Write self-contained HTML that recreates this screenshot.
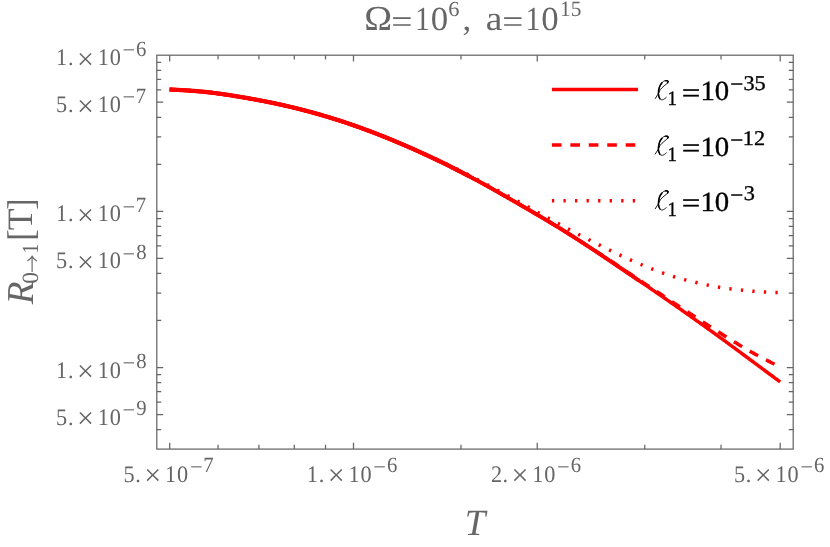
<!DOCTYPE html>
<html><head><meta charset="utf-8"><title>plot</title>
<style>
html,body{margin:0;padding:0;background:#fff;}
body{width:830px;height:547px;overflow:hidden;font-family:"Liberation Serif",serif;}
svg{display:block;will-change:transform;}
svg text{font-family:"Liberation Serif",serif;text-rendering:geometricPrecision;}
</style></head><body>
<svg width="830" height="547" viewBox="0 0 830 547">
<rect width="830" height="547" fill="#fff"/>
<rect x="156.8" y="55.2" width="636.4000000000001" height="393.90000000000003" fill="none" stroke="#666" stroke-width="1.25"/>
<path d="M169.70 449.1v-6.4M169.70 55.2v6.4M353.48 449.1v-6.4M353.48 55.2v6.4M537.26 449.1v-6.4M537.26 55.2v6.4M780.20 449.1v-6.4M780.20 55.2v6.4M218.04 449.1v-4.4M218.04 55.2v4.4M258.91 449.1v-4.4M258.91 55.2v4.4M294.32 449.1v-4.4M294.32 55.2v4.4M325.54 449.1v-4.4M325.54 55.2v4.4M460.98 449.1v-4.4M460.98 55.2v4.4M644.76 449.1v-4.4M644.76 55.2v4.4M721.04 449.1v-4.4M721.04 55.2v4.4M156.8 102.21h6.4M793.2 102.21h-6.4M156.8 211.35h6.4M793.2 211.35h-6.4M156.8 258.36h6.4M793.2 258.36h-6.4M156.8 367.50h6.4M793.2 367.50h-6.4M156.8 414.51h6.4M793.2 414.51h-6.4M156.8 62.35h4.4M793.2 62.35h-4.4M156.8 70.33h4.4M793.2 70.33h-4.4M156.8 79.39h4.4M793.2 79.39h-4.4M156.8 89.84h4.4M793.2 89.84h-4.4M156.8 117.34h4.4M793.2 117.34h-4.4M156.8 136.85h4.4M793.2 136.85h-4.4M156.8 164.34h4.4M793.2 164.34h-4.4M156.8 218.50h4.4M793.2 218.50h-4.4M156.8 226.48h4.4M793.2 226.48h-4.4M156.8 235.54h4.4M793.2 235.54h-4.4M156.8 245.99h4.4M793.2 245.99h-4.4M156.8 273.49h4.4M793.2 273.49h-4.4M156.8 293.00h4.4M793.2 293.00h-4.4M156.8 320.49h4.4M793.2 320.49h-4.4M156.8 374.65h4.4M793.2 374.65h-4.4M156.8 382.63h4.4M793.2 382.63h-4.4M156.8 391.69h4.4M793.2 391.69h-4.4M156.8 402.14h4.4M793.2 402.14h-4.4M156.8 429.64h4.4M793.2 429.64h-4.4" fill="none" stroke="#666" stroke-width="1.25"/>
<path d="M169.70 89.48 L171.23 89.56 L172.76 89.64 L174.29 89.71 L175.82 89.79 L177.35 89.88 L178.88 89.96 L180.41 90.04 L181.94 90.13 L183.47 90.22 L185.00 90.31 L186.53 90.41 L188.06 90.51 L189.59 90.61 L191.12 90.72 L192.65 90.83 L194.18 90.95 L195.71 91.07 L197.24 91.20 L198.77 91.33 L200.30 91.47 L201.83 91.61 L203.36 91.77 L204.89 91.92 L206.42 92.09 L207.95 92.26 L209.48 92.43 L211.01 92.61 L212.54 92.80 L214.07 92.99 L215.60 93.19 L217.13 93.39 L218.66 93.59 L220.19 93.80 L221.72 94.02 L223.25 94.24 L224.78 94.46 L226.31 94.69 L227.84 94.92 L229.37 95.15 L230.90 95.39 L232.43 95.63 L233.96 95.87 L235.49 96.12 L237.02 96.37 L238.55 96.62 L240.08 96.87 L241.61 97.13 L243.14 97.39 L244.67 97.65 L246.20 97.92 L247.73 98.18 L249.26 98.45 L250.79 98.72 L252.32 99.00 L253.85 99.28 L255.38 99.56 L256.91 99.84 L258.44 100.13 L259.97 100.42 L261.50 100.71 L263.03 101.00 L264.56 101.30 L266.09 101.61 L267.62 101.91 L269.15 102.22 L270.68 102.53 L272.22 102.85 L273.75 103.17 L275.28 103.49 L276.81 103.82 L278.34 104.15 L279.87 104.48 L281.40 104.82 L282.93 105.16 L284.46 105.51 L285.99 105.86 L287.52 106.21 L289.05 106.57 L290.58 106.93 L292.11 107.29 L293.64 107.66 L295.17 108.03 L296.70 108.41 L298.23 108.79 L299.76 109.18 L301.29 109.57 L302.82 109.96 L304.35 110.36 L305.88 110.76 L307.41 111.16 L308.94 111.57 L310.47 111.98 L312.00 112.40 L313.53 112.82 L315.06 113.25 L316.59 113.68 L318.12 114.11 L319.65 114.55 L321.18 114.99 L322.71 115.44 L324.24 115.89 L325.77 116.34 L327.30 116.80 L328.83 117.26 L330.36 117.73 L331.89 118.20 L333.42 118.67 L334.95 119.15 L336.48 119.64 L338.01 120.12 L339.54 120.61 L341.07 121.11 L342.60 121.61 L344.13 122.11 L345.66 122.62 L347.19 123.13 L348.72 123.65 L350.25 124.17 L351.78 124.70 L353.31 125.23 L354.84 125.76 L356.37 126.30 L357.90 126.84 L359.43 127.39 L360.96 127.94 L362.49 128.49 L364.02 129.05 L365.55 129.61 L367.08 130.18 L368.61 130.75 L370.14 131.32 L371.67 131.90 L373.20 132.49 L374.73 133.07 L376.26 133.66 L377.79 134.26 L379.32 134.86 L380.85 135.46 L382.38 136.07 L383.91 136.68 L385.44 137.29 L386.97 137.91 L388.50 138.53 L390.03 139.15 L391.56 139.78 L393.09 140.41 L394.62 141.05 L396.15 141.69 L397.68 142.33 L399.21 142.98 L400.74 143.62 L402.27 144.28 L403.80 144.93 L405.33 145.59 L406.86 146.26 L408.39 146.92 L409.92 147.59 L411.45 148.27 L412.98 148.94 L414.51 149.62 L416.04 150.31 L417.57 150.99 L419.10 151.68 L420.63 152.38 L422.16 153.08 L423.69 153.78 L425.22 154.48 L426.75 155.19 L428.28 155.90 L429.81 156.62 L431.34 157.34 L432.87 158.06 L434.40 158.78 L435.93 159.51 L437.46 160.25 L438.99 160.98 L440.52 161.72 L442.05 162.47 L443.58 163.22 L445.11 163.97 L446.64 164.72 L448.17 165.48 L449.70 166.24 L451.23 167.01 L452.76 167.78 L454.29 168.55 L455.82 169.33 L457.35 170.11 L458.88 170.89 L460.41 171.68 L461.94 172.47 L463.47 173.26 L465.00 174.06 L466.53 174.86 L468.06 175.66 L469.59 176.47 L471.12 177.28 L472.65 178.10 L474.18 178.92 L475.72 179.74 L477.25 180.56 L478.78 181.39 L480.31 182.23 L481.84 183.06 L483.37 183.90 L484.90 184.74 L486.43 185.59 L487.96 186.44 L489.49 187.29 L491.02 188.14 L492.55 189.00 L494.08 189.86 L495.61 190.72 L497.14 191.59 L498.67 192.45 L500.20 193.32 L501.73 194.19 L503.26 195.06 L504.79 195.94 L506.32 196.81 L507.85 197.69 L509.38 198.57 L510.91 199.45 L512.44 200.33 L513.97 201.21 L515.50 202.09 L517.03 202.97 L518.56 203.86 L520.09 204.74 L521.62 205.63 L523.15 206.51 L524.68 207.40 L526.21 208.28 L527.74 209.17 L529.27 210.06 L530.80 210.95 L532.33 211.84 L533.86 212.74 L535.39 213.63 L536.92 214.53 L538.45 215.43 L539.98 216.33 L541.51 217.23 L543.04 218.14 L544.57 219.04 L546.10 219.96 L547.63 220.87 L549.16 221.79 L550.69 222.71 L552.22 223.63 L553.75 224.56 L555.28 225.49 L556.81 226.42 L558.34 227.36 L559.87 228.30 L561.40 229.24 L562.93 230.19 L564.46 231.15 L565.99 232.11 L567.52 233.07 L569.05 234.03 L570.58 235.00 L572.11 235.97 L573.64 236.95 L575.17 237.93 L576.70 238.91 L578.23 239.89 L579.76 240.88 L581.29 241.87 L582.82 242.87 L584.35 243.86 L585.88 244.86 L587.41 245.86 L588.94 246.87 L590.47 247.87 L592.00 248.88 L593.53 249.89 L595.06 250.91 L596.59 251.92 L598.12 252.94 L599.65 253.96 L601.18 254.98 L602.71 256.00 L604.24 257.02 L605.77 258.05 L607.30 259.08 L608.83 260.10 L610.36 261.13 L611.89 262.16 L613.42 263.20 L614.95 264.23 L616.48 265.26 L618.01 266.30 L619.54 267.34 L621.07 268.37 L622.60 269.41 L624.13 270.45 L625.66 271.49 L627.19 272.54 L628.72 273.58 L630.25 274.62 L631.78 275.67 L633.31 276.71 L634.84 277.75 L636.37 278.80 L637.90 279.85 L639.43 280.89 L640.96 281.94 L642.49 282.99 L644.02 284.03 L645.55 285.08 L647.08 286.13 L648.61 287.18 L650.14 288.23 L651.67 289.28 L653.20 290.33 L654.73 291.38 L656.26 292.44 L657.79 293.49 L659.32 294.54 L660.85 295.60 L662.38 296.65 L663.91 297.71 L665.44 298.77 L666.97 299.83 L668.50 300.89 L670.03 301.95 L671.56 303.02 L673.09 304.08 L674.62 305.15 L676.15 306.21 L677.68 307.28 L679.22 308.35 L680.75 309.42 L682.28 310.49 L683.81 311.57 L685.34 312.65 L686.87 313.72 L688.40 314.80 L689.93 315.88 L691.46 316.97 L692.99 318.05 L694.52 319.13 L696.05 320.22 L697.58 321.31 L699.11 322.40 L700.64 323.49 L702.17 324.59 L703.70 325.68 L705.23 326.78 L706.76 327.88 L708.29 328.98 L709.82 330.08 L711.35 331.18 L712.88 332.29 L714.41 333.40 L715.94 334.51 L717.47 335.62 L719.00 336.73 L720.53 337.84 L722.06 338.96 L723.59 340.08 L725.12 341.20 L726.65 342.32 L728.18 343.44 L729.71 344.56 L731.24 345.69 L732.77 346.81 L734.30 347.94 L735.83 349.07 L737.36 350.20 L738.89 351.33 L740.42 352.46 L741.95 353.59 L743.48 354.72 L745.01 355.85 L746.54 356.99 L748.07 358.12 L749.60 359.25 L751.13 360.39 L752.66 361.52 L754.19 362.65 L755.72 363.79 L757.25 364.92 L758.78 366.06 L760.31 367.19 L761.84 368.33 L763.37 369.46 L764.90 370.60 L766.43 371.73 L767.96 372.87 L769.49 374.00 L771.02 375.14 L772.55 376.27 L774.08 377.41 L775.61 378.54 L777.14 379.68 L778.67 380.81 L780.20 381.95" fill="none" stroke="#f00" stroke-width="3.5" stroke-linejoin="round"/>
<path d="M169.70 89.48 L171.23 89.56 L172.76 89.64 L174.29 89.71 L175.82 89.79 L177.35 89.88 L178.88 89.96 L180.41 90.04 L181.94 90.13 L183.47 90.22 L185.00 90.31 L186.53 90.41 L188.06 90.51 L189.59 90.61 L191.12 90.72 L192.65 90.83 L194.18 90.95 L195.71 91.07 L197.24 91.20 L198.77 91.33 L200.30 91.47 L201.83 91.61 L203.36 91.77 L204.89 91.92 L206.42 92.09 L207.95 92.26 L209.48 92.43 L211.01 92.61 L212.54 92.80 L214.07 92.99 L215.60 93.19 L217.13 93.39 L218.66 93.59 L220.19 93.80 L221.72 94.02 L223.25 94.24 L224.78 94.46 L226.31 94.69 L227.84 94.92 L229.37 95.15 L230.90 95.39 L232.43 95.63 L233.96 95.87 L235.49 96.12 L237.02 96.37 L238.55 96.62 L240.08 96.87 L241.61 97.13 L243.14 97.39 L244.67 97.65 L246.20 97.92 L247.73 98.18 L249.26 98.45 L250.79 98.72 L252.32 99.00 L253.85 99.28 L255.38 99.56 L256.91 99.84 L258.44 100.13 L259.97 100.42 L261.50 100.71 L263.03 101.00 L264.56 101.30 L266.09 101.61 L267.62 101.91 L269.15 102.22 L270.68 102.53 L272.22 102.85 L273.75 103.17 L275.28 103.49 L276.81 103.82 L278.34 104.15 L279.87 104.48 L281.40 104.82 L282.93 105.16 L284.46 105.51 L285.99 105.86 L287.52 106.21 L289.05 106.57 L290.58 106.93 L292.11 107.29 L293.64 107.66 L295.17 108.03 L296.70 108.41 L298.23 108.79 L299.76 109.18 L301.29 109.57 L302.82 109.96 L304.35 110.36 L305.88 110.76 L307.41 111.16 L308.94 111.57 L310.47 111.98 L312.00 112.40 L313.53 112.82 L315.06 113.25 L316.59 113.68 L318.12 114.11 L319.65 114.55 L321.18 114.99 L322.71 115.44 L324.24 115.89 L325.77 116.34 L327.30 116.80 L328.83 117.26 L330.36 117.73 L331.89 118.20 L333.42 118.67 L334.95 119.15 L336.48 119.64 L338.01 120.12 L339.54 120.61 L341.07 121.11 L342.60 121.61 L344.13 122.11 L345.66 122.62 L347.19 123.13 L348.72 123.65 L350.25 124.17 L351.78 124.70 L353.31 125.23 L354.84 125.76 L356.37 126.30 L357.90 126.84 L359.43 127.39 L360.96 127.94 L362.49 128.49 L364.02 129.05 L365.55 129.61 L367.08 130.18 L368.61 130.75 L370.14 131.32 L371.67 131.90 L373.20 132.49 L374.73 133.07 L376.26 133.66 L377.79 134.26 L379.32 134.86 L380.85 135.46 L382.38 136.07 L383.91 136.68 L385.44 137.29 L386.97 137.91 L388.50 138.53 L390.03 139.15 L391.56 139.78 L393.09 140.41 L394.62 141.05 L396.15 141.69 L397.68 142.33 L399.21 142.98 L400.74 143.62 L402.27 144.28 L403.80 144.93 L405.33 145.59 L406.86 146.26 L408.39 146.92 L409.92 147.59 L411.45 148.27 L412.98 148.94 L414.51 149.62 L416.04 150.31 L417.57 150.99 L419.10 151.68 L420.63 152.38 L422.16 153.08 L423.69 153.78 L425.22 154.48 L426.75 155.19 L428.28 155.90 L429.81 156.62 L431.34 157.34 L432.87 158.06 L434.40 158.78 L435.93 159.51 L437.46 160.25 L438.99 160.98 L440.52 161.72 L442.05 162.47 L443.58 163.22 L445.11 163.97 L446.64 164.72 L448.17 165.48 L449.70 166.24 L451.23 167.01 L452.76 167.78 L454.29 168.55 L455.82 169.33 L457.35 170.11 L458.88 170.89 L460.41 171.68 L461.94 172.47 L463.47 173.26 L465.00 174.06 L466.53 174.86 L468.06 175.66 L469.59 176.47 L471.12 177.28 L472.65 178.10 L474.18 178.92 L475.72 179.74 L477.25 180.56 L478.78 181.39 L480.31 182.23 L481.84 183.06 L483.37 183.90 L484.90 184.74 L486.43 185.59 L487.96 186.44 L489.49 187.29 L491.02 188.14 L492.55 189.00 L494.08 189.86 L495.61 190.72 L497.14 191.59 L498.67 192.45 L500.20 193.32 L501.73 194.19 L503.26 195.06 L504.79 195.94 L506.32 196.81 L507.85 197.69 L509.38 198.57 L510.91 199.45 L512.44 200.33 L513.97 201.21 L515.50 202.09 L517.03 202.97 L518.56 203.86 L520.09 204.74 L521.62 205.63 L523.15 206.51 L524.68 207.40 L526.21 208.28 L527.74 209.17 L529.27 210.06 L530.80 210.95 L532.33 211.84 L533.86 212.74 L535.39 213.63 L536.92 214.53 L538.45 215.43 L539.98 216.33 L541.51 217.23 L543.04 218.14 L544.57 219.04 L546.10 219.96 L547.63 220.87 L549.16 221.79 L550.69 222.71 L552.22 223.63 L553.75 224.56 L555.28 225.49 L556.81 226.42 L558.34 227.36 L559.87 228.30 L561.40 229.24 L562.93 230.19 L564.46 231.15 L565.99 232.11 L567.52 233.07 L569.05 234.03 L570.58 235.00 L572.11 235.97 L573.64 236.95 L575.17 237.93 L576.70 238.91 L578.23 239.89 L579.76 240.88 L581.29 241.87 L582.82 242.87 L584.35 243.86 L585.88 244.86 L587.41 245.86 L588.94 246.87 L590.47 247.87 L592.00 248.88 L593.53 249.89 L595.06 250.91 L596.59 251.92 L598.12 252.94 L599.65 253.96 L601.18 254.98 L602.71 256.00 L604.24 257.02 L605.77 258.05 L607.30 259.08 L608.83 260.10 L610.36 261.13 L611.89 262.16 L613.42 263.20 L614.95 264.23 L616.48 265.26 L618.01 266.30 L619.54 267.34 L621.07 268.37 L622.60 269.41 L624.13 270.45 L625.66 271.49 L627.19 272.54 L628.72 273.58 L630.25 274.62 L631.78 275.67 L633.31 276.71 L634.84 277.75 L636.37 278.80 L637.90 279.85 L639.43 280.89" fill="none" stroke="#f00" stroke-width="3.9" stroke-linejoin="round"/>
<path d="M169.70 89.48 L171.23 89.56 L172.76 89.64 L174.29 89.71 L175.82 89.79 L177.35 89.88 L178.88 89.96 L180.41 90.04 L181.94 90.13 L183.47 90.22 L185.00 90.31 L186.53 90.41 L188.06 90.51 L189.59 90.61 L191.12 90.72 L192.65 90.83 L194.18 90.95 L195.71 91.07 L197.24 91.20 L198.77 91.33 L200.30 91.47 L201.83 91.61 L203.36 91.77 L204.89 91.92 L206.42 92.09 L207.95 92.26 L209.48 92.43 L211.01 92.61 L212.54 92.80 L214.07 92.99 L215.60 93.19 L217.13 93.39 L218.66 93.59 L220.19 93.80 L221.72 94.02 L223.25 94.24 L224.78 94.46 L226.31 94.69 L227.84 94.92 L229.37 95.15 L230.90 95.39 L232.43 95.63 L233.96 95.87 L235.49 96.12 L237.02 96.37 L238.55 96.62 L240.08 96.87 L241.61 97.13 L243.14 97.39 L244.67 97.65 L246.20 97.92 L247.73 98.18 L249.26 98.45 L250.79 98.72 L252.32 99.00 L253.85 99.28 L255.38 99.56 L256.91 99.84 L258.44 100.13 L259.97 100.42 L261.50 100.71 L263.03 101.00 L264.56 101.30 L266.09 101.61 L267.62 101.91 L269.15 102.22 L270.68 102.53 L272.22 102.85 L273.75 103.17 L275.28 103.49 L276.81 103.82 L278.34 104.15 L279.87 104.48 L281.40 104.82 L282.93 105.16 L284.46 105.51 L285.99 105.86 L287.52 106.21 L289.05 106.57 L290.58 106.93 L292.11 107.29 L293.64 107.66 L295.17 108.03 L296.70 108.41 L298.23 108.79 L299.76 109.18 L301.29 109.57 L302.82 109.96 L304.35 110.36 L305.88 110.76 L307.41 111.16 L308.94 111.57 L310.47 111.98 L312.00 112.40 L313.53 112.82 L315.06 113.25 L316.59 113.68 L318.12 114.11 L319.65 114.55 L321.18 114.99 L322.71 115.44 L324.24 115.89 L325.77 116.34 L327.30 116.80 L328.83 117.26 L330.36 117.73 L331.89 118.20 L333.42 118.67 L334.95 119.15 L336.48 119.64 L338.01 120.12 L339.54 120.61 L341.07 121.11 L342.60 121.61 L344.13 122.11 L345.66 122.62 L347.19 123.13 L348.72 123.65 L350.25 124.17 L351.78 124.70 L353.31 125.23 L354.84 125.76 L356.37 126.30 L357.90 126.84 L359.43 127.39 L360.96 127.94 L362.49 128.49 L364.02 129.05 L365.55 129.61 L367.08 130.18 L368.61 130.75 L370.14 131.32 L371.67 131.90 L373.20 132.49 L374.73 133.07 L376.26 133.66 L377.79 134.26 L379.32 134.86 L380.85 135.46 L382.38 136.07 L383.91 136.68 L385.44 137.29 L386.97 137.91 L388.50 138.53 L390.03 139.15 L391.56 139.78 L393.09 140.41 L394.62 141.05 L396.15 141.69 L397.68 142.33 L399.21 142.98 L400.74 143.62 L402.27 144.28 L403.80 144.93 L405.33 145.59 L406.86 146.26 L408.39 146.92 L409.92 147.59 L411.45 148.27 L412.98 148.94 L414.51 149.62 L416.04 150.31 L417.57 150.99 L419.10 151.68 L420.63 152.38 L422.16 153.08 L423.69 153.78 L425.22 154.48 L426.75 155.19 L428.28 155.90 L429.81 156.62 L431.34 157.34 L432.87 158.06 L434.40 158.78 L435.93 159.51 L437.46 160.25 L438.99 160.98 L440.52 161.72 L442.05 162.47 L443.58 163.22 L445.11 163.97 L446.64 164.72 L448.17 165.48 L449.70 166.24 L451.23 167.01 L452.76 167.78 L454.29 168.55 L455.82 169.33 L457.35 170.11 L458.88 170.89 L460.41 171.68 L461.94 172.47 L463.47 173.26 L465.00 174.06 L466.53 174.86 L468.06 175.66 L469.59 176.47" fill="none" stroke="#f00" stroke-width="4.2" stroke-linejoin="round"/>
<path d="M169.70 89.48 L171.23 89.56 L172.76 89.64 L174.29 89.71 L175.82 89.79 L177.35 89.88 L178.88 89.96 L180.41 90.04 L181.94 90.13 L183.47 90.22 L185.00 90.31 L186.53 90.41 L188.06 90.51 L189.59 90.61 L191.12 90.72 L192.65 90.83 L194.18 90.95 L195.71 91.07 L197.24 91.20 L198.77 91.33 L200.30 91.47 L201.83 91.61 L203.36 91.77 L204.89 91.92 L206.42 92.09 L207.95 92.26 L209.48 92.43 L211.01 92.61 L212.54 92.80 L214.07 92.99 L215.60 93.19 L217.13 93.39 L218.66 93.59 L220.19 93.80 L221.72 94.02 L223.25 94.24 L224.78 94.46 L226.31 94.69 L227.84 94.92 L229.37 95.15 L230.90 95.39 L232.43 95.63 L233.96 95.87 L235.49 96.12 L237.02 96.37 L238.55 96.62 L240.08 96.87 L241.61 97.13 L243.14 97.39 L244.67 97.65 L246.20 97.92 L247.73 98.18 L249.26 98.45 L250.79 98.72 L252.32 99.00 L253.85 99.28 L255.38 99.56 L256.91 99.84 L258.44 100.13 L259.97 100.42 L261.50 100.71 L263.03 101.00 L264.56 101.30 L266.09 101.61 L267.62 101.91 L269.15 102.22 L270.68 102.53 L272.22 102.85 L273.75 103.17 L275.28 103.49 L276.81 103.82 L278.34 104.15 L279.87 104.48 L281.40 104.82 L282.93 105.16 L284.46 105.51 L285.99 105.86 L287.52 106.21 L289.05 106.57 L290.58 106.93 L292.11 107.29 L293.64 107.66 L295.17 108.03 L296.70 108.41 L298.23 108.79 L299.76 109.18 L301.29 109.57 L302.82 109.96 L304.35 110.36 L305.88 110.76 L307.41 111.16 L308.94 111.57 L310.47 111.98 L312.00 112.40 L313.53 112.82 L315.06 113.25 L316.59 113.68 L318.12 114.11 L319.65 114.55 L321.18 114.99 L322.71 115.44 L324.24 115.89 L325.77 116.34 L327.30 116.80 L328.83 117.26 L330.36 117.73 L331.89 118.20 L333.42 118.67 L334.95 119.15 L336.48 119.64 L338.01 120.12 L339.54 120.61 L341.07 121.11 L342.60 121.61 L344.13 122.11 L345.66 122.62 L347.19 123.13 L348.72 123.65 L350.25 124.17 L351.78 124.70 L353.31 125.23 L354.84 125.76 L356.37 126.30 L357.90 126.84 L359.43 127.39 L360.96 127.94 L362.49 128.49 L364.02 129.05 L365.55 129.61 L367.08 130.18 L368.61 130.75 L370.14 131.32 L371.67 131.90 L373.20 132.49 L374.73 133.07 L376.26 133.66 L377.79 134.26 L379.32 134.86 L380.85 135.46 L382.38 136.07 L383.91 136.68 L385.44 137.29 L386.97 137.91 L388.50 138.53 L390.03 139.15 L391.56 139.78 L393.09 140.41 L394.62 141.05 L396.15 141.69 L397.68 142.33 L399.21 142.98 L400.74 143.62 L402.27 144.28 L403.80 144.93 L405.33 145.59 L406.86 146.26 L408.39 146.92 L409.92 147.59 L411.45 148.27 L412.98 148.94 L414.51 149.62 L416.04 150.31 L417.57 150.99 L419.10 151.68 L420.63 152.38 L422.16 153.08 L423.69 153.78 L425.22 154.48 L426.75 155.19 L428.28 155.90 L429.81 156.62 L431.34 157.34 L432.87 158.06 L434.40 158.78 L435.93 159.51 L437.46 160.25 L438.99 160.98 L440.52 161.72 L442.05 162.47 L443.58 163.22 L445.11 163.97 L446.64 164.72 L448.17 165.48 L449.70 166.24 L451.23 167.01 L452.76 167.78 L454.29 168.55 L455.82 169.33 L457.35 170.11 L458.88 170.89 L460.41 171.68 L461.94 172.47 L463.47 173.26 L465.00 174.06 L466.53 174.86 L468.06 175.66 L469.59 176.47 L471.12 177.28 L472.65 178.10 L474.18 178.92 L475.72 179.74 L477.25 180.56 L478.78 181.39 L480.31 182.23 L481.84 183.06 L483.37 183.90 L484.90 184.74 L486.43 185.59 L487.96 186.44 L489.49 187.29 L491.02 188.14 L492.55 189.00 L494.08 189.86 L495.61 190.72 L497.14 191.59 L498.67 192.45 L500.20 193.32 L501.73 194.19 L503.26 195.06 L504.79 195.94 L506.32 196.81 L507.85 197.69 L509.38 198.57 L510.91 199.45 L512.44 200.33 L513.97 201.21 L515.50 202.09 L517.03 202.97 L518.56 203.86 L520.09 204.74 L521.62 205.63 L523.15 206.51 L524.68 207.40 L526.21 208.28 L527.74 209.17 L529.27 210.06 L530.80 210.95 L532.33 211.84 L533.86 212.74 L535.39 213.63 L536.92 214.53 L538.45 215.43 L539.98 216.33 L541.51 217.23 L543.04 218.14 L544.57 219.04 L546.10 219.96 L547.63 220.87 L549.16 221.79 L550.69 222.71 L552.22 223.63 L553.75 224.56 L555.28 225.49 L556.81 226.42 L558.34 227.36 L559.87 228.30 L561.40 229.24 L562.93 230.19 L564.46 231.14 L565.99 232.10 L567.52 233.05 L569.05 234.01 L570.58 234.97 L572.11 235.93 L573.64 236.90 L575.17 237.86 L576.70 238.83 L578.23 239.81 L579.76 240.78 L581.29 241.76 L582.82 242.74 L584.35 243.72 L585.88 244.70 L587.41 245.69 L588.94 246.68 L590.47 247.67 L592.00 248.66 L593.53 249.66 L595.06 250.66 L596.59 251.66 L598.12 252.66 L599.65 253.66 L601.18 254.67 L602.71 255.67 L604.24 256.68 L605.77 257.69 L607.30 258.70 L608.83 259.71 L610.36 260.73 L611.89 261.74 L613.42 262.76 L614.95 263.77 L616.48 264.79 L618.01 265.81 L619.54 266.83 L621.07 267.85 L622.60 268.86 L624.13 269.88 L625.66 270.90 L627.19 271.93 L628.72 272.95 L630.25 273.97 L631.78 274.99 L633.31 276.01 L634.84 277.03 L636.37 278.05 L637.90 279.07 L639.43 280.09 L640.96 281.11 L642.49 282.13 L644.02 283.15 L645.55 284.17 L647.08 285.19 L648.61 286.21 L650.14 287.23 L651.67 288.24 L653.20 289.26 L654.73 290.27 L656.26 291.29 L657.79 292.30 L659.32 293.31 L660.85 294.32 L662.38 295.33 L663.91 296.34 L665.44 297.35 L666.97 298.36 L668.50 299.36 L670.03 300.37 L671.56 301.37 L673.09 302.38 L674.62 303.38 L676.15 304.39 L677.68 305.39 L679.22 306.40 L680.75 307.40 L682.28 308.40 L683.81 309.41 L685.34 310.41 L686.87 311.42 L688.40 312.42 L689.93 313.42 L691.46 314.43 L692.99 315.43 L694.52 316.44 L696.05 317.44 L697.58 318.45 L699.11 319.45 L700.64 320.46 L702.17 321.46 L703.70 322.46 L705.23 323.46 L706.76 324.45 L708.29 325.44 L709.82 326.43 L711.35 327.41 L712.88 328.39 L714.41 329.37 L715.94 330.35 L717.47 331.33 L719.00 332.30 L720.53 333.27 L722.06 334.24 L723.59 335.20 L725.12 336.17 L726.65 337.13 L728.18 338.09 L729.71 339.05 L731.24 340.01 L732.77 340.96 L734.30 341.91 L735.83 342.86 L737.36 343.81 L738.89 344.76 L740.42 345.69 L741.95 346.61 L743.48 347.52 L745.01 348.42 L746.54 349.31 L748.07 350.19 L749.60 351.06 L751.13 351.92 L752.66 352.78 L754.19 353.64 L755.72 354.48 L757.25 355.31 L758.78 356.12 L760.31 356.91 L761.84 357.70 L763.37 358.49 L764.90 359.27 L766.43 360.06 L767.96 360.85 L769.49 361.64 L771.02 362.45 L772.55 363.26 L774.08 364.07 L775.61 364.89 L777.14 365.71 L778.67 366.53 L780.20 367.35" fill="none" stroke="#f00" stroke-width="3.5" stroke-dasharray="9.6 8.85" stroke-dashoffset="0.6"/>
<path d="M169.70 89.48 L171.23 89.56 L172.76 89.64 L174.29 89.71 L175.82 89.79 L177.35 89.88 L178.88 89.96 L180.41 90.04 L181.94 90.13 L183.47 90.22 L185.00 90.31 L186.53 90.41 L188.06 90.51 L189.59 90.61 L191.12 90.72 L192.65 90.83 L194.18 90.95 L195.71 91.07 L197.24 91.20 L198.77 91.33 L200.30 91.47 L201.83 91.61 L203.36 91.77 L204.89 91.92 L206.42 92.09 L207.95 92.26 L209.48 92.43 L211.01 92.61 L212.54 92.80 L214.07 92.99 L215.60 93.19 L217.13 93.39 L218.66 93.59 L220.19 93.80 L221.72 94.02 L223.25 94.24 L224.78 94.46 L226.31 94.69 L227.84 94.92 L229.37 95.15 L230.90 95.39 L232.43 95.63 L233.96 95.87 L235.49 96.12 L237.02 96.37 L238.55 96.62 L240.08 96.87 L241.61 97.13 L243.14 97.39 L244.67 97.65 L246.20 97.92 L247.73 98.18 L249.26 98.45 L250.79 98.72 L252.32 99.00 L253.85 99.28 L255.38 99.56 L256.91 99.84 L258.44 100.13 L259.97 100.42 L261.50 100.71 L263.03 101.00 L264.56 101.30 L266.09 101.61 L267.62 101.91 L269.15 102.22 L270.68 102.53 L272.22 102.85 L273.75 103.17 L275.28 103.49 L276.81 103.82 L278.34 104.15 L279.87 104.48 L281.40 104.82 L282.93 105.16 L284.46 105.51 L285.99 105.86 L287.52 106.21 L289.05 106.57 L290.58 106.93 L292.11 107.29 L293.64 107.66 L295.17 108.03 L296.70 108.41 L298.23 108.79 L299.76 109.18 L301.29 109.57 L302.82 109.96 L304.35 110.36 L305.88 110.76 L307.41 111.16 L308.94 111.57 L310.47 111.98 L312.00 112.40 L313.53 112.82 L315.06 113.25 L316.59 113.68 L318.12 114.11 L319.65 114.55 L321.18 114.99 L322.71 115.44 L324.24 115.89 L325.77 116.34 L327.30 116.80 L328.83 117.26 L330.36 117.73 L331.89 118.20 L333.42 118.67 L334.95 119.15 L336.48 119.64 L338.01 120.12 L339.54 120.61 L341.07 121.11 L342.60 121.61 L344.13 122.11 L345.66 122.62 L347.19 123.13 L348.72 123.65 L350.25 124.17 L351.78 124.70 L353.31 125.23 L354.84 125.76 L356.37 126.30 L357.90 126.84 L359.43 127.39 L360.96 127.94 L362.49 128.49 L364.02 129.05 L365.55 129.61 L367.08 130.18 L368.61 130.75 L370.14 131.32 L371.67 131.90 L373.20 132.49 L374.73 133.07 L376.26 133.66 L377.79 134.26 L379.32 134.86 L380.85 135.46 L382.38 136.07 L383.91 136.68 L385.44 137.29 L386.97 137.91 L388.50 138.53 L390.03 139.15 L391.56 139.78 L393.09 140.41 L394.62 141.05 L396.15 141.69 L397.68 142.33 L399.21 142.98 L400.74 143.62 L402.27 144.28 L403.80 144.93 L405.33 145.58 L406.86 146.24 L408.39 146.89 L409.92 147.55 L411.45 148.21 L412.98 148.88 L414.51 149.54 L416.04 150.21 L417.57 150.88 L419.10 151.55 L420.63 152.23 L422.16 152.91 L423.69 153.59 L425.22 154.28 L426.75 154.96 L428.28 155.64 L429.81 156.32 L431.34 157.00 L432.87 157.68 L434.40 158.36 L435.93 159.05 L437.46 159.73 L438.99 160.43 L440.52 161.12 L442.05 161.83 L443.58 162.54 L445.11 163.26 L446.64 163.99 L448.17 164.73 L449.70 165.47 L451.23 166.22 L452.76 166.97 L454.29 167.72 L455.82 168.48 L457.35 169.24 L458.88 170.00 L460.41 170.77 L461.94 171.54 L463.47 172.31 L465.00 173.09 L466.53 173.87 L468.06 174.66 L469.59 175.45 L471.12 176.24 L472.65 177.04 L474.18 177.84 L475.72 178.64 L477.25 179.44 L478.78 180.25 L480.31 181.06 L481.84 181.88 L483.37 182.69 L484.90 183.51 L486.43 184.33 L487.96 185.15 L489.49 185.97 L491.02 186.79 L492.55 187.61 L494.08 188.43 L495.61 189.25 L497.14 190.07 L498.67 190.90 L500.20 191.72 L501.73 192.54 L503.26 193.36 L504.79 194.18 L506.32 195.01 L507.85 195.83 L509.38 196.66 L510.91 197.49 L512.44 198.32 L513.97 199.15 L515.50 199.98 L517.03 200.82 L518.56 201.65 L520.09 202.49 L521.62 203.34 L523.15 204.18 L524.68 205.03 L526.21 205.88 L527.74 206.72 L529.27 207.58 L530.80 208.43 L532.33 209.28 L533.86 210.14 L535.39 210.99 L536.92 211.84 L538.45 212.70 L539.98 213.55 L541.51 214.41 L543.04 215.26 L544.57 216.12 L546.10 216.97 L547.63 217.82 L549.16 218.67 L550.69 219.51 L552.22 220.35 L553.75 221.18 L555.28 222.01 L556.81 222.83 L558.34 223.65 L559.87 224.46 L561.40 225.28 L562.93 226.09 L564.46 226.91 L565.99 227.72 L567.52 228.54 L569.05 229.36 L570.58 230.18 L572.11 230.99 L573.64 231.80 L575.17 232.60 L576.70 233.41 L578.23 234.21 L579.76 235.00 L581.29 235.80 L582.82 236.59 L584.35 237.38 L585.88 238.17 L587.41 238.96 L588.94 239.75 L590.47 240.53 L592.00 241.32 L593.53 242.10 L595.06 242.87 L596.59 243.64 L598.12 244.41 L599.65 245.17 L601.18 245.93 L602.71 246.69 L604.24 247.45 L605.77 248.20 L607.30 248.95 L608.83 249.70 L610.36 250.45 L611.89 251.19 L613.42 251.94 L614.95 252.68 L616.48 253.41 L618.01 254.15 L619.54 254.88 L621.07 255.60 L622.60 256.32 L624.13 257.04 L625.66 257.75 L627.19 258.45 L628.72 259.15 L630.25 259.84 L631.78 260.53 L633.31 261.21 L634.84 261.88 L636.37 262.54 L637.90 263.20 L639.43 263.85 L640.96 264.49 L642.49 265.12 L644.02 265.75 L645.55 266.37 L647.08 266.98 L648.61 267.59 L650.14 268.20 L651.67 268.80 L653.20 269.39 L654.73 269.98 L656.26 270.56 L657.79 271.14 L659.32 271.71 L660.85 272.27 L662.38 272.82 L663.91 273.37 L665.44 273.91 L666.97 274.44 L668.50 274.96 L670.03 275.47 L671.56 275.97 L673.09 276.46 L674.62 276.94 L676.15 277.41 L677.68 277.85 L679.22 278.29 L680.75 278.70 L682.28 279.11 L683.81 279.50 L685.34 279.89 L686.87 280.27 L688.40 280.64 L689.93 281.00 L691.46 281.36 L692.99 281.72 L694.52 282.08 L696.05 282.44 L697.58 282.80 L699.11 283.16 L700.64 283.51 L702.17 283.86 L703.70 284.21 L705.23 284.55 L706.76 284.88 L708.29 285.21 L709.82 285.53 L711.35 285.84 L712.88 286.14 L714.41 286.44 L715.94 286.73 L717.47 287.01 L719.00 287.28 L720.53 287.53 L722.06 287.77 L723.59 288.00 L725.12 288.22 L726.65 288.42 L728.18 288.62 L729.71 288.80 L731.24 288.98 L732.77 289.15 L734.30 289.32 L735.83 289.49 L737.36 289.65 L738.89 289.81 L740.42 289.97 L741.95 290.13 L743.48 290.29 L745.01 290.45 L746.54 290.60 L748.07 290.75 L749.60 290.89 L751.13 291.03 L752.66 291.16 L754.19 291.29 L755.72 291.41 L757.25 291.53 L758.78 291.64 L760.31 291.75 L761.84 291.85 L763.37 291.94 L764.90 292.03 L766.43 292.11 L767.96 292.18 L769.49 292.24 L771.02 292.29 L772.55 292.33 L774.08 292.37 L775.61 292.40 L777.14 292.42 L778.67 292.44 L780.20 292.45" fill="none" stroke="#f00" stroke-width="3.5" stroke-dasharray="2.3 9.25" stroke-dashoffset="1.0"/>
<path d="M551.9 89.6H638.0" stroke="#f00" stroke-width="3.5"/>
<path d="M551.9 145.1H638.0" stroke="#f00" stroke-width="3.5" stroke-dasharray="9.6 8.85"/>
<path d="M551.9 200.7H638.0" stroke="#f00" stroke-width="3.5" stroke-dasharray="2.3 9.25"/>
<text transform="translate(55.92,65.30) scale(0.94,1)" font-size="23.7" fill="#666">1</text>
<text transform="translate(67.93,65.30) scale(0.94,1)" font-size="23.7" fill="#666">.</text>
<text x="76.93" y="68.50" font-size="30" fill="#666">×</text>
<text transform="translate(97.64,65.30) scale(0.94,1)" font-size="23.7" fill="#666">1</text>
<text transform="translate(109.70,65.30) scale(0.94,1)" font-size="23.7" fill="#666">0</text>
<text transform="translate(122.48,57.40) scale(1.04,1)" font-size="21.6" fill="#666">−</text>
<text transform="translate(136.08,55.50) scale(0.96,1)" font-size="21.6" fill="#666">6</text>
<text transform="translate(56.02,112.30) scale(0.94,1)" font-size="23.7" fill="#666">5</text>
<text transform="translate(67.93,112.30) scale(0.94,1)" font-size="23.7" fill="#666">.</text>
<text x="76.93" y="115.50" font-size="30" fill="#666">×</text>
<text transform="translate(97.64,112.30) scale(0.94,1)" font-size="23.7" fill="#666">1</text>
<text transform="translate(109.70,112.30) scale(0.94,1)" font-size="23.7" fill="#666">0</text>
<text transform="translate(122.48,104.40) scale(1.04,1)" font-size="21.6" fill="#666">−</text>
<text transform="translate(135.83,102.50) scale(0.96,1)" font-size="21.6" fill="#666">7</text>
<text transform="translate(55.92,221.45) scale(0.94,1)" font-size="23.7" fill="#666">1</text>
<text transform="translate(67.93,221.45) scale(0.94,1)" font-size="23.7" fill="#666">.</text>
<text x="76.93" y="224.65" font-size="30" fill="#666">×</text>
<text transform="translate(97.64,221.45) scale(0.94,1)" font-size="23.7" fill="#666">1</text>
<text transform="translate(109.70,221.45) scale(0.94,1)" font-size="23.7" fill="#666">0</text>
<text transform="translate(122.48,213.55) scale(1.04,1)" font-size="21.6" fill="#666">−</text>
<text transform="translate(135.83,211.65) scale(0.96,1)" font-size="21.6" fill="#666">7</text>
<text transform="translate(56.02,268.45) scale(0.94,1)" font-size="23.7" fill="#666">5</text>
<text transform="translate(67.93,268.45) scale(0.94,1)" font-size="23.7" fill="#666">.</text>
<text x="76.93" y="271.65" font-size="30" fill="#666">×</text>
<text transform="translate(97.64,268.45) scale(0.94,1)" font-size="23.7" fill="#666">1</text>
<text transform="translate(109.70,268.45) scale(0.94,1)" font-size="23.7" fill="#666">0</text>
<text transform="translate(122.48,260.55) scale(1.04,1)" font-size="21.6" fill="#666">−</text>
<text transform="translate(136.22,258.65) scale(0.96,1)" font-size="21.6" fill="#666">8</text>
<text transform="translate(55.92,377.60) scale(0.94,1)" font-size="23.7" fill="#666">1</text>
<text transform="translate(67.93,377.60) scale(0.94,1)" font-size="23.7" fill="#666">.</text>
<text x="76.93" y="380.80" font-size="30" fill="#666">×</text>
<text transform="translate(97.64,377.60) scale(0.94,1)" font-size="23.7" fill="#666">1</text>
<text transform="translate(109.70,377.60) scale(0.94,1)" font-size="23.7" fill="#666">0</text>
<text transform="translate(122.48,369.70) scale(1.04,1)" font-size="21.6" fill="#666">−</text>
<text transform="translate(136.22,367.80) scale(0.96,1)" font-size="21.6" fill="#666">8</text>
<text transform="translate(56.02,424.60) scale(0.94,1)" font-size="23.7" fill="#666">5</text>
<text transform="translate(67.93,424.60) scale(0.94,1)" font-size="23.7" fill="#666">.</text>
<text x="76.93" y="427.80" font-size="30" fill="#666">×</text>
<text transform="translate(97.64,424.60) scale(0.94,1)" font-size="23.7" fill="#666">1</text>
<text transform="translate(109.70,424.60) scale(0.94,1)" font-size="23.7" fill="#666">0</text>
<text transform="translate(122.48,416.70) scale(1.04,1)" font-size="21.6" fill="#666">−</text>
<text transform="translate(136.31,414.80) scale(0.96,1)" font-size="21.6" fill="#666">9</text>
<text transform="translate(123.42,482.20) scale(0.94,1)" font-size="23.7" fill="#666">5</text>
<text transform="translate(135.33,482.20) scale(0.94,1)" font-size="23.7" fill="#666">.</text>
<text x="144.33" y="485.40" font-size="30" fill="#666">×</text>
<text transform="translate(165.04,482.20) scale(0.94,1)" font-size="23.7" fill="#666">1</text>
<text transform="translate(177.10,482.20) scale(0.94,1)" font-size="23.7" fill="#666">0</text>
<text transform="translate(189.88,474.30) scale(1.04,1)" font-size="21.6" fill="#666">−</text>
<text transform="translate(203.23,472.40) scale(0.96,1)" font-size="21.6" fill="#666">7</text>
<text transform="translate(306.72,482.20) scale(0.94,1)" font-size="23.7" fill="#666">1</text>
<text transform="translate(318.73,482.20) scale(0.94,1)" font-size="23.7" fill="#666">.</text>
<text x="327.73" y="485.40" font-size="30" fill="#666">×</text>
<text transform="translate(348.44,482.20) scale(0.94,1)" font-size="23.7" fill="#666">1</text>
<text transform="translate(360.50,482.20) scale(0.94,1)" font-size="23.7" fill="#666">0</text>
<text transform="translate(373.28,474.30) scale(1.04,1)" font-size="21.6" fill="#666">−</text>
<text transform="translate(386.88,472.40) scale(0.96,1)" font-size="21.6" fill="#666">6</text>
<text transform="translate(490.96,482.20) scale(0.94,1)" font-size="23.7" fill="#666">2</text>
<text transform="translate(502.53,482.20) scale(0.94,1)" font-size="23.7" fill="#666">.</text>
<text x="511.53" y="485.40" font-size="30" fill="#666">×</text>
<text transform="translate(532.24,482.20) scale(0.94,1)" font-size="23.7" fill="#666">1</text>
<text transform="translate(544.30,482.20) scale(0.94,1)" font-size="23.7" fill="#666">0</text>
<text transform="translate(557.08,474.30) scale(1.04,1)" font-size="21.6" fill="#666">−</text>
<text transform="translate(570.68,472.40) scale(0.96,1)" font-size="21.6" fill="#666">6</text>
<text transform="translate(733.92,482.20) scale(0.94,1)" font-size="23.7" fill="#666">5</text>
<text transform="translate(745.83,482.20) scale(0.94,1)" font-size="23.7" fill="#666">.</text>
<text x="754.83" y="485.40" font-size="30" fill="#666">×</text>
<text transform="translate(775.54,482.20) scale(0.94,1)" font-size="23.7" fill="#666">1</text>
<text transform="translate(787.60,482.20) scale(0.94,1)" font-size="23.7" fill="#666">0</text>
<text transform="translate(800.38,474.30) scale(1.04,1)" font-size="21.6" fill="#666">−</text>
<text transform="translate(813.98,472.40) scale(0.96,1)" font-size="21.6" fill="#666">6</text>
<text transform="translate(364.16,29.90) scale(1.07,1)" font-size="35" fill="#666">Ω</text>
<text transform="translate(391.32,32.70) scale(1.09,1)" font-size="34.6" fill="#666">=</text>
<text transform="translate(414.98,29.80) scale(0.885,1)" font-size="33.7" fill="#666">1</text>
<text transform="translate(430.87,29.80) scale(1.035,1)" font-size="33.7" fill="#666">0</text>
<text transform="translate(448.24,15.50) scale(1.04,1)" font-size="21.5" fill="#666">6</text>
<text x="462.48" y="29.80" font-size="34.6" fill="#666">,</text>
<text transform="translate(485.79,29.80) scale(1.08,1)" font-size="34.6" fill="#666">a</text>
<text transform="translate(502.24,32.70) scale(1.08,1)" font-size="34.6" fill="#666">=</text>
<text transform="translate(525.38,29.80) scale(0.885,1)" font-size="33.7" fill="#666">1</text>
<text transform="translate(541.37,29.80) scale(1.035,1)" font-size="33.7" fill="#666">0</text>
<text transform="translate(560.12,15.60) scale(0.98,1)" font-size="21.8" fill="#666">15</text>
<text x="464.78" y="535.10" font-size="37" font-style="italic" fill="#666">T</text>
<g transform="translate(32.8,304.3) rotate(-90)"><text transform="translate(0.00,0.30) scale(0.98,1)" font-size="38" font-style="italic" fill="#666">R</text><text x="20.46" y="5.00" font-size="23.3" fill="#666">0</text><text transform="translate(50.83,5.00) scale(0.84,1)" font-size="23.3" fill="#666">1</text><text transform="translate(63.56,0.30) scale(0.92,1)" font-size="37.2" fill="#666">[</text><text x="74.16" y="-0.85" font-size="35.7" fill="#666">T</text><text transform="translate(94.66,0.30) scale(0.92,1)" font-size="37.2" fill="#666">]</text><path d="M32.2 -0.7H48.0M43.3 -5.4Q45.415 -1.875 48.0 -0.7Q45.415 0.4750000000000001 43.3 4.0" fill="none" stroke="#666" stroke-width="1.15"/></g>
<g transform="translate(0,0.00)" fill="none" stroke="#000" stroke-linecap="round" stroke-linejoin="round"><path d="M655.3 98.5C657.2 96.0 658.6 93.0 660.2 89.7C662.5 86.8 665.8 84.8 668.0 82.5C669.3 81.0 667.8 80.2 665.2 80.6C662.7 81.2 660.3 84.2 659.3 87.5C658.2 91.5 658.2 96.5 659.9 98.7C661.2 100.5 663.5 100.2 666.3 97.4" stroke-width="0.9"/><path d="M667.6 82.8C668.8 81.4 667.6 80.5 665.6 80.7M661.9 82.9C660.6 84.2 659.7 86.0 659.3 87.5C658.2 91.5 658.2 96.5 659.9 98.7" stroke-width="1.5"/></g>
<text transform="translate(667.47,105.30) scale(0.9,1)" font-size="20.6" fill="#000" stroke="#000" stroke-width="0.35">1</text>
<text transform="translate(681.66,101.90) scale(1.19,1)" font-size="27.7" fill="#000" stroke="#000" stroke-width="0.35">=</text>
<text transform="translate(700.47,100.30) scale(1.04,1)" font-size="27.7" fill="#000" stroke="#000" stroke-width="0.35">10</text>
<text transform="translate(730.15,91.40) scale(1.1,1)" font-size="21" fill="#000" stroke="#000" stroke-width="0.35">−</text>
<text transform="translate(743.43,89.50) scale(1.06,1)" font-size="21" fill="#000" stroke="#000" stroke-width="0.35">35</text>
<g transform="translate(0,55.50)" fill="none" stroke="#000" stroke-linecap="round" stroke-linejoin="round"><path d="M655.3 98.5C657.2 96.0 658.6 93.0 660.2 89.7C662.5 86.8 665.8 84.8 668.0 82.5C669.3 81.0 667.8 80.2 665.2 80.6C662.7 81.2 660.3 84.2 659.3 87.5C658.2 91.5 658.2 96.5 659.9 98.7C661.2 100.5 663.5 100.2 666.3 97.4" stroke-width="0.9"/><path d="M667.6 82.8C668.8 81.4 667.6 80.5 665.6 80.7M661.9 82.9C660.6 84.2 659.7 86.0 659.3 87.5C658.2 91.5 658.2 96.5 659.9 98.7" stroke-width="1.5"/></g>
<text transform="translate(667.47,160.80) scale(0.9,1)" font-size="20.6" fill="#000" stroke="#000" stroke-width="0.35">1</text>
<text transform="translate(681.66,157.40) scale(1.19,1)" font-size="27.7" fill="#000" stroke="#000" stroke-width="0.35">=</text>
<text transform="translate(700.47,155.80) scale(1.04,1)" font-size="27.7" fill="#000" stroke="#000" stroke-width="0.35">10</text>
<text transform="translate(730.15,146.90) scale(1.1,1)" font-size="21" fill="#000" stroke="#000" stroke-width="0.35">−</text>
<text transform="translate(742.84,145.00) scale(1.06,1)" font-size="21" fill="#000" stroke="#000" stroke-width="0.35">12</text>
<g transform="translate(0,110.20)" fill="none" stroke="#000" stroke-linecap="round" stroke-linejoin="round"><path d="M655.3 98.5C657.2 96.0 658.6 93.0 660.2 89.7C662.5 86.8 665.8 84.8 668.0 82.5C669.3 81.0 667.8 80.2 665.2 80.6C662.7 81.2 660.3 84.2 659.3 87.5C658.2 91.5 658.2 96.5 659.9 98.7C661.2 100.5 663.5 100.2 666.3 97.4" stroke-width="0.9"/><path d="M667.6 82.8C668.8 81.4 667.6 80.5 665.6 80.7M661.9 82.9C660.6 84.2 659.7 86.0 659.3 87.5C658.2 91.5 658.2 96.5 659.9 98.7" stroke-width="1.5"/></g>
<text transform="translate(667.47,215.50) scale(0.9,1)" font-size="20.6" fill="#000" stroke="#000" stroke-width="0.35">1</text>
<text transform="translate(681.66,212.10) scale(1.19,1)" font-size="27.7" fill="#000" stroke="#000" stroke-width="0.35">=</text>
<text transform="translate(700.47,210.50) scale(1.04,1)" font-size="27.7" fill="#000" stroke="#000" stroke-width="0.35">10</text>
<text transform="translate(730.15,201.60) scale(1.1,1)" font-size="21" fill="#000" stroke="#000" stroke-width="0.35">−</text>
<text transform="translate(743.73,199.70) scale(1.06,1)" font-size="21" fill="#000" stroke="#000" stroke-width="0.35">3</text>
</svg>
</body></html>
